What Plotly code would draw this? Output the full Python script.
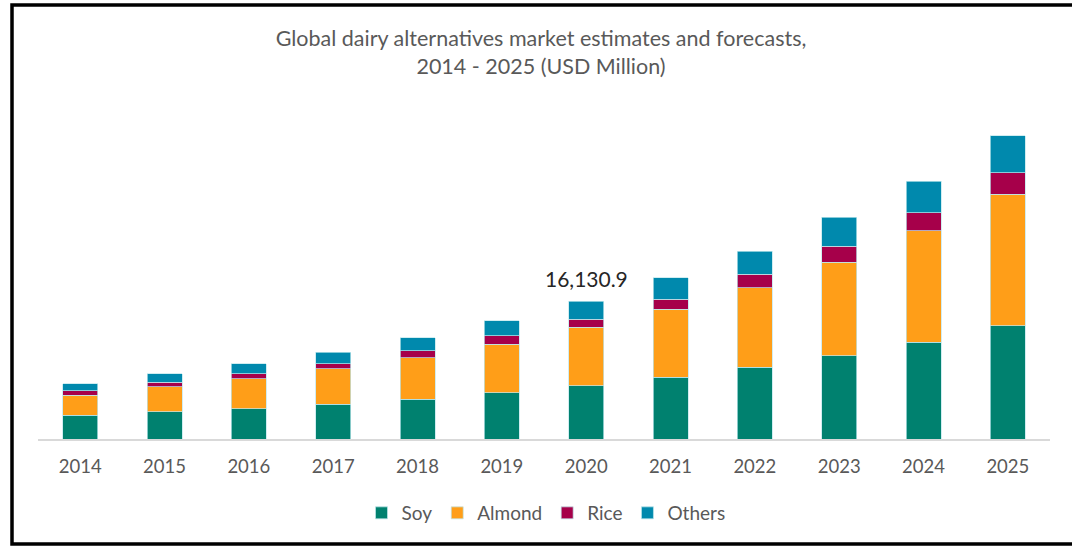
import plotly.graph_objects as go

years = ["2014", "2015", "2016", "2017", "2018", "2019", "2020", "2021", "2022", "2023", "2024", "2025"]
soy = [2782, 3180, 3530, 4092, 4664, 5436, 6245, 7213, 8382, 9738, 11304, 13245]
almond = [2338, 2923, 3507, 4127, 4863, 5658, 6815, 7949, 9305, 10918, 13046, 15396]
rice = [549, 538, 585, 585, 783, 970, 935, 1169, 1566, 1905, 2104, 2490]
others = [783, 982, 1169, 1321, 1555, 1754, 2135.9, 2525, 2724, 3355, 3706, 4325]
series_names = ["Soy", "Almond", "Rice", "Others"]
series_colors = ["#00816F", "#FF9E18", "#A6004A", "#0089AD"]
label_year = "2020"
label_text = "16,130.9"
title_text = "Global dairy alternatives market estimates and forecasts,<br>2014 - 2025 (USD Million)"

FONT = "Lato"
GRAY = "#595959"

fig = go.Figure()
for name, vals, col in zip(series_names, [soy, almond, rice, others], series_colors):
    fig.add_trace(go.Bar(
        x=years, y=vals, name=name,
        marker=dict(color=col, line=dict(color="rgba(190,230,235,0.9)", width=0.8)),
    ))

idx = years.index(label_year)
total = soy[idx] + almond[idx] + rice[idx] + others[idx]
# category axis: annotation positioned by category index
fig.add_annotation(x=idx, y=total, text=label_text, showarrow=False,
                   yanchor="bottom", yshift=8, font=dict(family=FONT, size=21, color="#262626"))

# outer frame (left, top, bottom visible; right cut off)
x0 = (12 - 38) / 1012
x1 = (1080 - 38) / 1012
y0 = (439 - 544) / 339
y1 = (439 - 5) / 339
fig.add_shape(type="rect", xref="paper", yref="paper", x0=x0, x1=x1, y0=y0, y1=y1,
              line=dict(color="black", width=3.5), fillcolor="rgba(0,0,0,0)", layer="above")

fig.update_layout(
    width=1072, height=548,
    margin=dict(l=38, r=22, t=100, b=109),
    paper_bgcolor="white", plot_bgcolor="white",
    barmode="stack", bargap=0.585,
    title=dict(text=title_text, x=541 / 1072, xanchor="center", y=1 - 46 / 548, yanchor="middle",
               font=dict(family=FONT, size=21.5, color=GRAY)),
    font=dict(family=FONT, color=GRAY),
    xaxis=dict(type="category", range=[-0.5, len(years) - 0.5], showline=True, linecolor="#D9D9D9",
               linewidth=1.5, showgrid=False, ticks="", ticklabelstandoff=10,
               tickfont=dict(family=FONT, size=18.5, color=GRAY), fixedrange=True),
    yaxis=dict(range=[0, 339 * 116.9], visible=False, showgrid=False, fixedrange=True),
    legend=dict(orientation="h", x=546 / 1012 - 38 / 1012, xanchor="center", y=(439 - 513) / 339,
                yanchor="middle", font=dict(family=FONT, size=19, color=GRAY),
                traceorder="normal", itemwidth=30),
    showlegend=True,
)

fig.write_html("out.html")
